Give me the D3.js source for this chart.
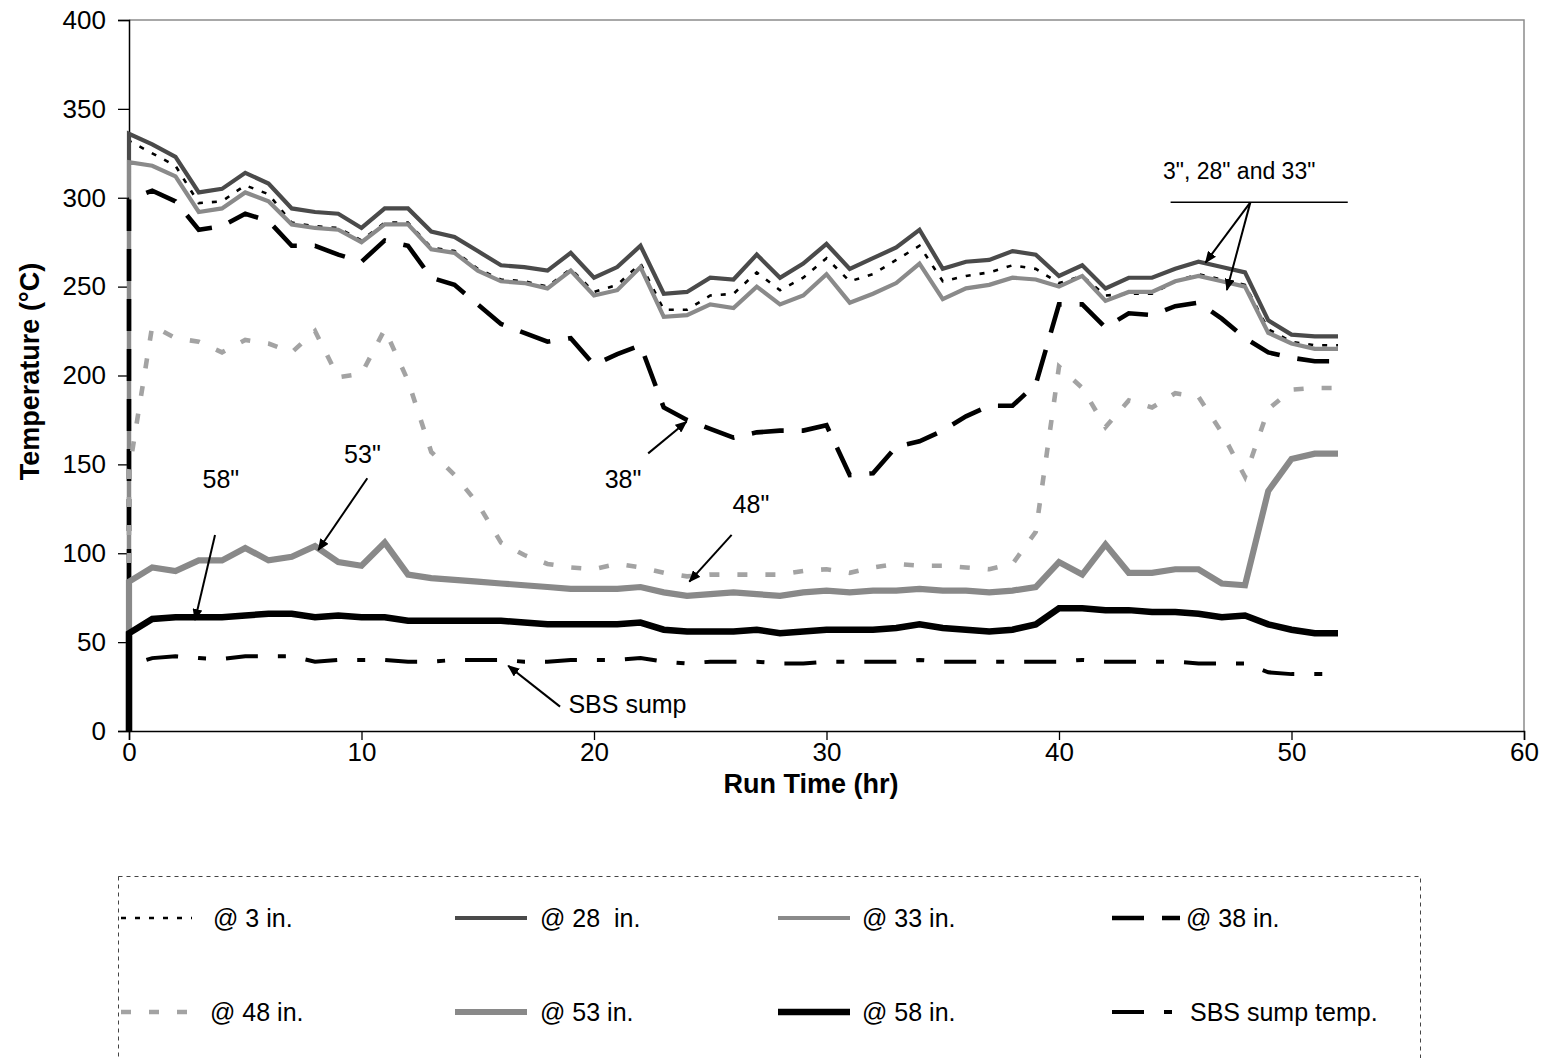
<!DOCTYPE html>
<html>
<head>
<meta charset="utf-8">
<script src="https://cdn.jsdelivr.net/npm/d3@7"></script>
<style>
  html, body { margin: 0; padding: 0; background: #fff; }
  svg { display: block; font-family: "Liberation Sans", Arial, sans-serif; }
  .legend-label { white-space: pre; }
</style>
</head>
<body>
<svg id="chart" width="1549" height="1058"></svg>
<script>
// Run hours for the thermocouple series (the first reading at hour 0 is the cold start)
const runHours = [0, 0, 1, 2, 3, 4, 5, 6, 7, 8, 9, 10, 11, 12, 13, 14, 15, 16, 17, 18, 19,
  20, 21, 22, 23, 24, 25, 26, 27, 28, 29, 30, 31, 32, 33, 34, 35, 36, 37, 38, 39,
  40, 41, 42, 43, 44, 45, 46, 47, 48, 49, 50, 51, 52];

// Temperatures (°C) at each depth
const temp3in = [0, 332, 325, 318, 297, 298, 307, 302, 286, 284, 283,
  276, 286, 286, 272, 270, 260, 254, 253, 250, 260,
  247, 251, 263, 237, 237, 245, 246, 258, 248, 255,
  266, 253, 257, 265, 273, 253, 256, 258, 262, 260,
  252, 256, 245, 246, 246, 253, 257, 254, 251, 226,
  219, 217, 217];
const temp28in = [0, 336, 330, 323, 303, 305, 314, 308, 294, 292, 291,
  283, 294, 294, 281, 278, 270, 262, 261, 259, 269,
  255, 261, 273, 246, 247, 255, 254, 268, 255, 263,
  274, 260, 266, 272, 282, 260, 264, 265, 270, 268,
  256, 262, 249, 255, 255, 260, 264, 261, 258, 231,
  223, 222, 222];
const temp33in = [0, 320, 318, 312, 292, 294, 303, 298, 285, 283, 282,
  275, 285, 285, 271, 269, 259, 253, 252, 249, 259,
  245, 248, 261, 233, 234, 240, 238, 250, 240, 245,
  257, 241, 246, 252, 263, 243, 249, 251, 255, 254,
  250, 256, 242, 247, 247, 253, 256, 253, 250, 224,
  218, 215, 215];
const temp38in = [0, 299, 304, 298, 282, 284, 291, 287, 273, 273, 268,
  264, 276, 273, 255, 251, 240, 229, 224, 219, 221,
  206, 212, 217, 182, 175, 170, 165, 168, 169, 169,
  172, 144, 145, 160, 163, 169, 177, 183, 183, 195,
  240, 240, 227, 235, 234, 239, 241, 232, 221, 213,
  210, 208, 208];
const temp48in = [0, 146, 228, 221, 219, 213, 220, 218, 213, 225, 199,
  201, 226, 197, 157, 144, 128, 106, 99, 94, 92,
  91, 94, 92, 89, 87, 88, 88, 88, 88, 90,
  91, 89, 92, 94, 93, 93, 92, 91, 94, 112,
  205, 193, 171, 186, 182, 190, 188, 168, 143, 181,
  192, 193, 193];
const temp53in = [0, 84, 92, 90, 96, 96, 103, 96, 98, 104, 95,
  93, 106, 88, 86, 85, 84, 83, 82, 81, 80,
  80, 80, 81, 78, 76, 77, 78, 77, 76, 78,
  79, 78, 79, 79, 80, 79, 79, 78, 79, 81,
  95, 88, 105, 89, 89, 91, 91, 83, 82, 135,
  153, 156, 156];
const temp58in = [0, 55, 63, 64, 64, 64, 65, 66, 66, 64, 65,
  64, 64, 62, 62, 62, 62, 62, 61, 60, 60,
  60, 60, 61, 57, 56, 56, 56, 57, 55, 56,
  57, 57, 57, 58, 60, 58, 57, 56, 57, 60,
  69, 69, 68, 68, 67, 67, 66, 64, 65, 60,
  57, 55, 55];

// SBS sump readings begin shortly after start-up
const sumpHours = [0.75, 1, 2, 3, 4, 5, 6, 7, 8, 9, 10, 11, 12, 13, 14, 15, 16, 17, 18, 19,
  20, 21, 22, 23, 24, 25, 26, 27, 28, 29, 30, 31, 32, 33, 34, 35, 36, 37, 38, 39,
  40, 41, 42, 43, 44, 45, 46, 47, 48, 49, 50, 51, 52];
const sumpTemp = [40, 41, 42, 41, 40.5, 42, 42, 42, 39, 40,
  40, 40, 39, 39, 40, 40, 40, 39, 39, 40,
  40, 40, 41, 39, 38, 39, 39, 39, 38, 38,
  39, 39, 39, 39, 40, 39, 39, 39, 39, 39,
  39, 40, 39, 39, 39, 39, 38, 38, 38, 33,
  32, 32, 32];

const seriesNames = ["@ 3 in.", "@ 28  in.", "@ 33 in.", "@ 38 in.",
  "@ 48 in.", "@ 53 in.", "@ 58 in.", "SBS sump temp."];

const xTicks = [0, 10, 20, 30, 40, 50, 60];
const yTicks = [0, 50, 100, 150, 200, 250, 300, 350, 400];

// Callout labels (text anchor point and arrow tail/head), in data units
const callouts = [
  { text: "58\"", at: [3.95, 136.5], arrows: [[[3.7, 110.3], [2.84, 62.4]]] },
  { text: "53\"", at: [10.04, 150.8], arrows: [[[10.25, 142.2], [8.14, 101.8]]] },
  { text: "38\"", at: [21.25, 136.5], arrows: [[[22.33, 156.2], [23.98, 174.0]]] },
  { text: "48\"", at: [26.75, 122.5], arrows: [[[25.92, 110.3], [24.1, 84.0]]] }
];
const groupCallout = {
  text: "3\", 28\" and 33\"", at: [47.75, 310.5],
  bar: [[44.8, 297.4], [52.42, 297.4]],
  arrows: [[[48.23, 297.4], [46.3, 263.5]], [[48.23, 297.4], [47.22, 248.1]]]
};
const sumpCallout = { text: "SBS sump", at: [18.9, 10.2], arrows: [[[18.54, 13.7], [16.31, 36.7]]] };

// ---------------------------------------------------------------
const svg = d3.select("#chart");
const plot = { left: 129, right: 1524, top: 20, bottom: 731 };

const x = d3.scaleLinear().domain([0, 60]).range([plot.left, plot.right]);
const y = d3.scaleLinear().domain([0, 400]).range([plot.bottom, plot.top]);

// Line styling per series
const styles = [
  { color: "#000000", width: 2.6, dash: "5,9" },
  { color: "#4a4a4a", width: 4.2, dash: null },
  { color: "#8a8a8a", width: 4.2, dash: null },
  { color: "#000000", width: 4.6, dash: "32,18" },
  { color: "#a3a3a3", width: 4.6, dash: "10,18" },
  { color: "#898989", width: 6.2, dash: null },
  { color: "#000000", width: 6.5, dash: null },
  { color: "#000000", width: 4.0, dash: "32,20,8,20" }
];

const seriesData = [
  runHours.map((h, i) => [h, temp3in[i]]),
  runHours.map((h, i) => [h, temp28in[i]]),
  runHours.map((h, i) => [h, temp33in[i]]),
  runHours.map((h, i) => [h, temp38in[i]]),
  runHours.map((h, i) => [h, temp48in[i]]),
  runHours.map((h, i) => [h, temp53in[i]]),
  runHours.map((h, i) => [h, temp58in[i]]),
  sumpHours.map((h, i) => [h, sumpTemp[i]])
];

// Plot frame: grey top/right edges
svg.append("path")
  .attr("d", `M${plot.left},${plot.top}H${plot.right}V${plot.bottom}`)
  .attr("fill", "none").attr("stroke", "#8c8c8c").attr("stroke-width", 1.5);

// Axes
const yAxis = d3.axisLeft(y).tickValues(yTicks).tickSize(11).tickPadding(12);
const xAxis = d3.axisBottom(x).tickValues(xTicks).tickSize(9).tickPadding(3);

const gy = svg.append("g").attr("transform", `translate(${plot.left},0)`).call(yAxis);
const gx = svg.append("g").attr("transform", `translate(0,${plot.bottom})`).call(xAxis);
[gx, gy].forEach(g => {
  g.select(".domain").attr("stroke", "#000").attr("stroke-width", 1.5);
  g.selectAll(".tick line").attr("stroke", "#000").attr("stroke-width", 1.3);
  g.selectAll(".tick text").attr("fill", "#000")
    .style("font-size", "26px").style("font-family", "'Liberation Sans', Arial, sans-serif");
});

// Axis titles
svg.append("text")
  .attr("x", 811).attr("y", 793).attr("text-anchor", "middle")
  .style("font-size", "27px").style("font-weight", "bold")
  .text("Run Time (hr)");
svg.append("text")
  .attr("transform", `translate(39,${(plot.top + plot.bottom) / 2 - 4}) rotate(-90)`)
  .attr("text-anchor", "middle")
  .style("font-size", "27px").style("font-weight", "bold")
  .text("Temperature (°C)");

// Series lines
const line = d3.line().x(d => x(d[0])).y(d => y(d[1]));
svg.append("g").selectAll("path")
  .data(seriesData)
  .join("path")
  .attr("d", line)
  .attr("fill", "none")
  .attr("stroke", (d, i) => styles[i].color)
  .attr("stroke-width", (d, i) => styles[i].width)
  .attr("stroke-dasharray", (d, i) => styles[i].dash)
  .attr("stroke-linejoin", "miter")
  .attr("stroke-linecap", "butt");

// Arrowhead marker
svg.append("defs").append("marker")
  .attr("id", "arrowhead")
  .attr("viewBox", "0 0 12 10").attr("refX", 11).attr("refY", 5)
  .attr("markerWidth", 12).attr("markerHeight", 10)
  .attr("markerUnits", "userSpaceOnUse")
  .attr("orient", "auto")
  .append("path").attr("d", "M0,0L12,5L0,10Z").attr("fill", "#000");

function drawArrow(g, a) {
  g.append("line")
    .attr("x1", x(a[0][0])).attr("y1", y(a[0][1]))
    .attr("x2", x(a[1][0])).attr("y2", y(a[1][1]))
    .attr("stroke", "#000").attr("stroke-width", 2)
    .attr("marker-end", "url(#arrowhead)");
}

const notes = svg.append("g");
callouts.concat([sumpCallout]).forEach(c => {
  notes.append("text")
    .attr("x", x(c.at[0])).attr("y", y(c.at[1]))
    .attr("text-anchor", c === sumpCallout ? "start" : "middle")
    .style("font-size", "25px")
    .text(c.text);
  c.arrows.forEach(a => drawArrow(notes, a));
});

notes.append("text")
  .attr("x", x(groupCallout.at[0])).attr("y", y(groupCallout.at[1]))
  .attr("text-anchor", "middle").style("font-size", "23px")
  .text(groupCallout.text);
notes.append("line")
  .attr("x1", x(groupCallout.bar[0][0])).attr("y1", y(groupCallout.bar[0][1]))
  .attr("x2", x(groupCallout.bar[1][0])).attr("y2", y(groupCallout.bar[1][1]))
  .attr("stroke", "#000").attr("stroke-width", 1.5);
groupCallout.arrows.forEach(a => drawArrow(notes, a));

// Legend
const legend = svg.append("g");
legend.append("rect")
  .attr("x", 118.5).attr("y", 876.5).attr("width", 1302).attr("height", 200)
  .attr("fill", "none").attr("stroke", "#444").attr("stroke-width", 1)
  .attr("stroke-dasharray", "4,4");

const legendCols = [
  { x0: 121, x1: 192 },
  { x0: 455, x1: 527 },
  { x0: 778, x1: 850 },
  { x0: 1112, x1: 1180 }
];
const legendRows = [918, 1012];
const legendText = [213, 540, 862, 1186, 210, 540, 862, 1190];

seriesNames.forEach((name, i) => {
  const col = legendCols[i % 4];
  const cy = legendRows[Math.floor(i / 4)];
  const s = styles[i];
  legend.append("line")
    .attr("x1", col.x0).attr("x2", col.x1).attr("y1", cy).attr("y2", cy)
    .attr("stroke", s.color).attr("stroke-width", s.width)
    .attr("stroke-dasharray", s.dash);
  legend.append("text")
    .attr("class", "legend-label")
    .attr("x", legendText[i]).attr("y", cy + 9)
    .style("font-size", "25px")
    .text(name);
});
</script>
</body>
</html>
